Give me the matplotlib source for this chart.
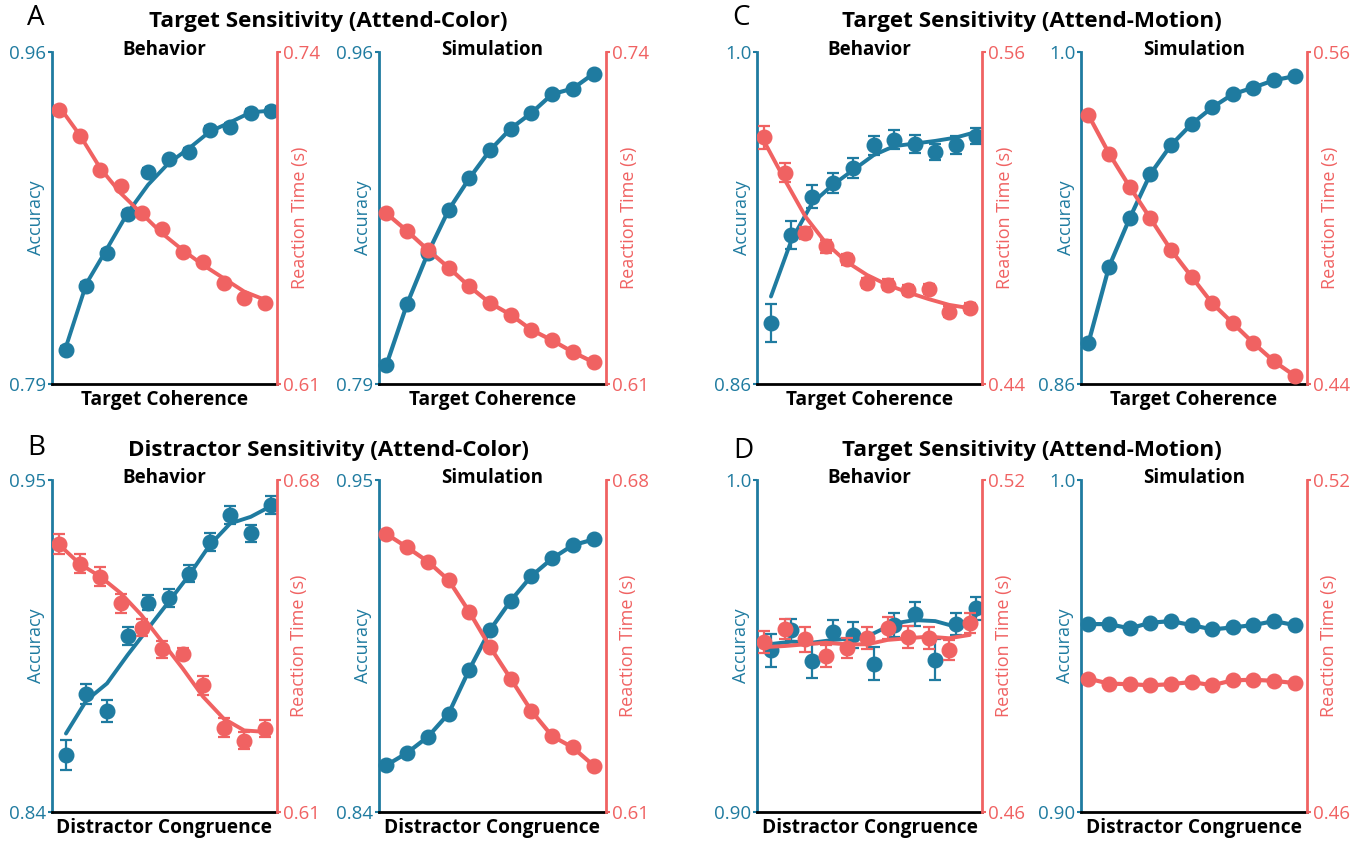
#Importar matplotlib para la figura de cuatro paneles
import matplotlib
matplotlib.use("Agg")
from matplotlib import pyplot as plt

plt.rcParams['font.family'] = ['Open Sans', 'DejaVu Sans']

AZUL = '#1f7ba0'
ROJO = '#f06262'

#Posiciones de las 11 condiciones
x = list(range(11))

#Panel A - Behavior
a_beh_acc = [0.8075, 0.8403, 0.8570, 0.8769, 0.8987, 0.9050, 0.9086, 0.9200, 0.9217, 0.9288, 0.9300]
a_beh_acc_err = [0.002, 0.002, 0.002, 0.002, 0.002, 0.002, 0.002, 0.002, 0.002, 0.002, 0.002]
a_beh_acc_fit = [0.8090, 0.8415, 0.8593, 0.8775, 0.8920, 0.9031, 0.9107, 0.9192, 0.9240, 0.9291, 0.9300]
a_beh_rt = [0.7172, 0.7070, 0.6938, 0.6876, 0.6771, 0.6706, 0.6618, 0.6579, 0.6495, 0.6436, 0.6417]
a_beh_rt_err = [0.0018, 0.0012, 0.0012, 0.0012, 0.0010, 0.0010, 0.0010, 0.0012, 0.0012, 0.0010, 0.0010]
a_beh_rt_fit = [0.7185, 0.7074, 0.6944, 0.6846, 0.6768, 0.6690, 0.6625, 0.6566, 0.6514, 0.6462, 0.6430]

#Panel A - Simulation
a_sim_acc = [0.7999, 0.8311, 0.8570, 0.8791, 0.8953, 0.9097, 0.9208, 0.9288, 0.9384, 0.9413, 0.9489]
a_sim_rt = [0.6768, 0.6699, 0.6625, 0.6556, 0.6482, 0.6417, 0.6371, 0.6312, 0.6271, 0.6225, 0.6185]

#Panel B - Behavior
b_beh_acc = [0.8588, 0.8790, 0.8735, 0.8983, 0.9093, 0.9108, 0.9190, 0.9295, 0.9384, 0.9323, 0.9417]
b_beh_acc_err = [0.0049, 0.0033, 0.0037, 0.0030, 0.0025, 0.0030, 0.0028, 0.0030, 0.0030, 0.0028, 0.0030]
b_beh_acc_fit = [0.8660, 0.8770, 0.8826, 0.8920, 0.9008, 0.9096, 0.9185, 0.9284, 0.9356, 0.9378, 0.9414]
b_beh_rt = [0.6665, 0.6623, 0.6596, 0.6540, 0.6489, 0.6443, 0.6434, 0.6367, 0.6278, 0.6250, 0.6276]
b_beh_rt_err = [0.0022, 0.0020, 0.0020, 0.0020, 0.0018, 0.0018, 0.0012, 0.0020, 0.0020, 0.0018, 0.0018]
b_beh_rt_fit = [0.6663, 0.6623, 0.6596, 0.6561, 0.6515, 0.6459, 0.6403, 0.6343, 0.6297, 0.6272, 0.6269]

#Panel B - Simulation
b_sim_acc = [0.8555, 0.8596, 0.8649, 0.8726, 0.8872, 0.9003, 0.9100, 0.9182, 0.9240, 0.9284, 0.9303]
b_sim_rt = [0.6686, 0.6658, 0.6628, 0.6589, 0.6522, 0.6448, 0.6381, 0.6313, 0.6260, 0.6236, 0.6198]

#Panel C - Behavior
c_beh_acc = [0.8857, 0.9228, 0.9390, 0.9446, 0.9509, 0.9607, 0.9631, 0.9611, 0.9579, 0.9607, 0.9645]
c_beh_acc_err = [0.0080, 0.0060, 0.0049, 0.0042, 0.0042, 0.0040, 0.0042, 0.0038, 0.0035, 0.0038, 0.0035]
c_beh_acc_fit = [0.8969, 0.9207, 0.9362, 0.9439, 0.9502, 0.9565, 0.9603, 0.9614, 0.9625, 0.9639, 0.9663]
c_beh_rt = [0.5291, 0.5164, 0.4945, 0.4897, 0.4851, 0.4764, 0.4758, 0.4740, 0.4743, 0.4662, 0.4674]
c_beh_rt_err = [0.0042, 0.0033, 0.0022, 0.0022, 0.0020, 0.0018, 0.0020, 0.0018, 0.0018, 0.0020, 0.0018]
c_beh_rt_fit = [0.5275, 0.5137, 0.5005, 0.4909, 0.4842, 0.4794, 0.4758, 0.4731, 0.4707, 0.4686, 0.4674]

#Panel C - Simulation
c_sim_acc = [0.8773, 0.9095, 0.9299, 0.9485, 0.9607, 0.9696, 0.9766, 0.9822, 0.9850, 0.9881, 0.9898]
c_sim_rt = [0.5372, 0.5233, 0.5113, 0.4999, 0.4885, 0.4788, 0.4692, 0.4620, 0.4548, 0.4482, 0.4430]

#Panel D - Behavior
d_beh_acc = [0.9487, 0.9548, 0.9455, 0.9543, 0.9533, 0.9447, 0.9563, 0.9596, 0.9459, 0.9566, 0.9613]
d_beh_acc_err = [0.0050, 0.0032, 0.0050, 0.0036, 0.0038, 0.0050, 0.0035, 0.0037, 0.0062, 0.0033, 0.0036]
d_beh_acc_fit = [0.9506, 0.9513, 0.9510, 0.9518, 0.9523, 0.9538, 0.9568, 0.9578, 0.9575, 0.9558, 0.9593]
d_beh_rt = [0.4908, 0.4930, 0.4912, 0.4882, 0.4897, 0.4914, 0.4932, 0.4917, 0.4914, 0.4892, 0.4941]
d_beh_rt_err = [0.0020, 0.0018, 0.0022, 0.0020, 0.0018, 0.0020, 0.0020, 0.0020, 0.0020, 0.0018, 0.0018]
d_beh_rt_fit = [0.4898, 0.4900, 0.4903, 0.4906, 0.4903, 0.4903, 0.4911, 0.4914, 0.4917, 0.4914, 0.4920]

#Panel D - Simulation
d_sim_acc = [0.9566, 0.9566, 0.9553, 0.9570, 0.9575, 0.9563, 0.9550, 0.9556, 0.9563, 0.9575, 0.9563]
d_sim_rt = [0.4841, 0.4832, 0.4831, 0.4829, 0.4831, 0.4835, 0.4829, 0.4838, 0.4839, 0.4837, 0.4833]

#Rangos de los ejes y etiquetas de los extremos
lim_a_acc, etq_a_acc = (0.79, 0.96), ['0.79', '0.96']
lim_a_rt, etq_a_rt = (0.61, 0.74), ['0.61', '0.74']
lim_b_acc, etq_b_acc = (0.84, 0.95), ['0.84', '0.95']
lim_b_rt, etq_b_rt = (0.61, 0.68), ['0.61', '0.68']
lim_c_acc, etq_c_acc = (0.86, 1.0), ['0.86', '1.0']
lim_c_rt, etq_c_rt = (0.44, 0.56), ['0.44', '0.56']
lim_d_acc, etq_d_acc = (0.90, 1.0), ['0.90', '1.0']
lim_d_rt, etq_d_rt = (0.46, 0.52), ['0.46', '0.52']

W, H = 1368, 846


def caja(x0, x1, y0, y1):
    #Convertir pixeles a coordenadas de la figura
    return [x0 / W, 1 - y1 / H, (x1 - x0) / W, (y1 - y0) / H]


def preparar_ejes(fig, pos, lim_acc, etq_acc, lim_rt, etq_rt, titulo, xlabel, xlim):
    ax = fig.add_axes(pos)
    ax2 = ax.twinx()
    ax.set_xlim(*xlim)
    ax.set_ylim(*lim_acc)
    ax2.set_ylim(*lim_rt)

    #Solo dos marcas en cada eje
    ax.set_yticks(lim_acc)
    ax.set_yticklabels(etq_acc)
    ax2.set_yticks(lim_rt)
    ax2.set_yticklabels(etq_rt)
    ax.set_xticks([])

    ax.tick_params(axis='y', colors=AZUL, labelsize=13.5, length=3, width=1.5, pad=1)
    ax2.tick_params(axis='y', colors=ROJO, labelsize=13.5, length=3, width=1.5, pad=1)

    for s in ['top', 'right']:
        ax.spines[s].set_visible(False)
    for s in ['top', 'left', 'bottom']:
        ax2.spines[s].set_visible(False)
    ax.spines['left'].set_color(AZUL)
    ax.spines['left'].set_linewidth(2)
    ax.spines['bottom'].set_color('black')
    ax.spines['bottom'].set_linewidth(2)
    ax2.spines['right'].set_color(ROJO)
    ax2.spines['right'].set_linewidth(2)

    ax.set_ylabel('Accuracy', color=AZUL, fontsize=13, labelpad=-26)
    ax2.set_ylabel('Reaction Time (s)', color=ROJO, fontsize=13, labelpad=-21)
    ax.set_xlabel(xlabel, fontsize=13.8, fontweight='bold', labelpad=4)
    #Subtitulo sobre el borde superior del panel
    ax.text(0.5, 1.0 + 2 / 332, titulo, transform=ax.transAxes, fontsize=13.5,
            fontweight='bold', ha='center', va='center')
    return ax, ax2


def panel_conducta(fig, pos, acc, acc_err, acc_fit, rt, rt_err, rt_fit, lims, xlabel):
    ax, ax2 = preparar_ejes(fig, pos, *lims, 'Behavior', xlabel, (-0.68, 10.28))
    #Los tiempos de reaccion van un poco corridos a la izquierda
    x_rt = [i - 0.32 for i in x]
    ax.plot(x, acc_fit, color=AZUL, lw=2.8, solid_capstyle='round', zorder=2)
    ax.errorbar(x, acc, yerr=acc_err, fmt='o', color=AZUL, ms=10.5, capsize=4.5,
                elinewidth=1.6, capthick=1.6, zorder=3)
    ax2.plot(x_rt, rt_fit, color=ROJO, lw=2.8, solid_capstyle='round', zorder=2)
    ax2.errorbar(x_rt, rt, yerr=rt_err, fmt='o', color=ROJO, ms=10.5, capsize=4.5,
                 elinewidth=1.6, capthick=1.6, zorder=3)


def panel_simulacion(fig, pos, acc, rt, lims, xlabel):
    ax, ax2 = preparar_ejes(fig, pos, *lims, 'Simulation', xlabel, (-0.36, 10.6))
    ax.plot(x, acc, '-o', color=AZUL, lw=3, ms=10.5, clip_on=False)
    ax2.plot(x, rt, '-o', color=ROJO, lw=3, ms=10.5, clip_on=False)


fig = plt.figure(figsize=(W / 100, H / 100), dpi=100)

lims_a = (lim_a_acc, etq_a_acc, lim_a_rt, etq_a_rt)
lims_b = (lim_b_acc, etq_b_acc, lim_b_rt, etq_b_rt)
lims_c = (lim_c_acc, etq_c_acc, lim_c_rt, etq_c_rt)
lims_d = (lim_d_acc, etq_d_acc, lim_d_rt, etq_d_rt)

panel_conducta(fig, caja(52, 277, 52, 384), a_beh_acc, a_beh_acc_err, a_beh_acc_fit,
               a_beh_rt, a_beh_rt_err, a_beh_rt_fit, lims_a, 'Target Coherence')
panel_simulacion(fig, caja(379, 606, 52, 384), a_sim_acc, a_sim_rt, lims_a, 'Target Coherence')
panel_conducta(fig, caja(757, 982, 52, 384), c_beh_acc, c_beh_acc_err, c_beh_acc_fit,
               c_beh_rt, c_beh_rt_err, c_beh_rt_fit, lims_c, 'Target Coherence')
panel_simulacion(fig, caja(1081, 1307, 52, 384), c_sim_acc, c_sim_rt, lims_c, 'Target Coherence')

panel_conducta(fig, caja(52, 277, 480, 812), b_beh_acc, b_beh_acc_err, b_beh_acc_fit,
               b_beh_rt, b_beh_rt_err, b_beh_rt_fit, lims_b, 'Distractor Congruence')
panel_simulacion(fig, caja(379, 606, 480, 812), b_sim_acc, b_sim_rt, lims_b, 'Distractor Congruence')
panel_conducta(fig, caja(757, 982, 480, 812), d_beh_acc, d_beh_acc_err, d_beh_acc_fit,
               d_beh_rt, d_beh_rt_err, d_beh_rt_fit, lims_d, 'Distractor Congruence')
panel_simulacion(fig, caja(1081, 1307, 480, 812), d_sim_acc, d_sim_rt, lims_d, 'Distractor Congruence')

#Letras y titulos de cada bloque
letras = [('A', 36, 18), ('B', 36, 448), ('C', 741, 18), ('D', 743, 451)]
for letra, px, py in letras:
    fig.text(px / W, 1 - py / H, letra, fontsize=20, ha='center', va='center')

titulos = [('Target Sensitivity (Attend-Color)', 328, 22),
           ('Distractor Sensitivity (Attend-Color)', 328, 450),
           ('Target Sensitivity (Attend-Motion)', 1032, 22),
           ('Target Sensitivity (Attend-Motion)', 1032, 450)]
for t, px, py in titulos:
    fig.text(px / W, 1 - py / H, t, fontsize=16.2, fontweight='bold', ha='center', va='center')

fig.savefig('out.png', dpi=100)
